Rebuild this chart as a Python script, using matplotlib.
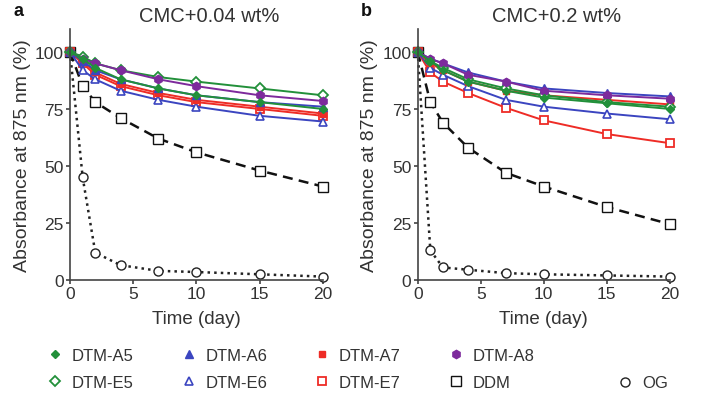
import matplotlib.pyplot as plt
from matplotlib.lines import Line2D

plt.rcParams['font.family'] = ['Liberation Sans', 'DejaVu Sans']
plt.rcParams['text.color'] = '#333333'
plt.rcParams['axes.labelcolor'] = '#333333'
plt.rcParams['xtick.color'] = '#333333'
plt.rcParams['ytick.color'] = '#333333'

days = [0, 1, 2, 4, 7, 10, 15, 20]

# panel a: CMC+0.04 wt%
a_A5 = [100, 97, 93, 88, 84, 81, 78, 75]
a_E5 = [100, 98, 95, 92, 89, 87, 84, 81]
a_A6 = [100, 96, 92, 88, 84, 81, 78, 76]
a_E6 = [100, 92, 88, 83, 79, 76, 72, 69.5]
a_A7 = [100, 96, 91, 86, 82, 79, 76, 73]
a_E7 = [100, 95, 90, 85, 81, 78, 75, 72]
a_A8 = [100, 97, 95, 92, 88, 85, 81, 78.5]
a_DDM = [100, 85, 78, 71, 62, 56, 48, 41]
a_OG = [100, 45, 12, 6.5, 4, 3.5, 2.5, 1.5]

# panel b: CMC+0.2 wt%
b_A5 = [100, 96, 92, 87, 83, 80, 77.5, 75]
b_E5 = [100, 96, 93, 88, 84, 81, 78, 76]
b_A6 = [100, 97, 95, 91, 87, 84, 82, 80.5]
b_E6 = [100, 93, 90, 85, 79, 76, 73, 70.5]
b_A7 = [100, 95, 92, 87, 83, 81, 79, 77]
b_E7 = [100, 91, 87, 82, 75.5, 70, 64, 60]
b_A8 = [100, 97, 95, 90, 87, 83, 81, 79.5]
b_DDM = [100, 78, 69, 58, 47, 41, 32, 24.5]
b_OG = [100, 13, 5.5, 4.5, 3, 2.5, 2, 1.5]

green = '#22903a'
blue = '#3b45c0'
red = '#ee2c26'
purple = '#7d2a9c'

styles = {
    'DTM-A5': dict(color=green, marker='D', ms=4.5, mfc=green, ls='-', lw=1.4),
    'DTM-A6': dict(color=blue, marker='^', ms=5.5, mfc=blue, ls='-', lw=1.4),
    'DTM-A7': dict(color=red, marker='s', ms=5, mfc=red, ls='-', lw=1.4),
    'DTM-A8': dict(color=purple, marker='h', ms=6, mfc=purple, ls='-', lw=1.4),
    'DTM-E5': dict(color=green, marker='D', ms=5, mfc='white', mew=1.3, ls='-', lw=1.4),
    'DTM-E6': dict(color=blue, marker='^', ms=6, mfc='white', mew=1.2, ls='-', lw=1.4),
    'DTM-E7': dict(color=red, marker='s', ms=6, mfc='white', mew=1.3, ls='-', lw=1.4),
    'DDM': dict(color='#111111', marker='s', ms=6.5, mfc='white', mew=1.0, ls=(0, (4, 2.5)), lw=1.8),
    'OG': dict(color='#222222', marker='o', ms=6.5, mfc='white', mew=1.0, ls=':', lw=1.8),
}

panel_a = {'DTM-A5': a_A5, 'DTM-A6': a_A6, 'DTM-A7': a_A7, 'DTM-A8': a_A8,
           'DTM-E5': a_E5, 'DTM-E6': a_E6, 'DTM-E7': a_E7, 'DDM': a_DDM, 'OG': a_OG}
panel_b = {'DTM-A5': b_A5, 'DTM-A6': b_A6, 'DTM-A7': b_A7, 'DTM-A8': b_A8,
           'DTM-E5': b_E5, 'DTM-E6': b_E6, 'DTM-E7': b_E7, 'DDM': b_DDM, 'OG': b_OG}
draw_order = ['OG', 'DDM', 'DTM-E7', 'DTM-E6', 'DTM-A7', 'DTM-A6', 'DTM-E5', 'DTM-A8', 'DTM-A5']

fig = plt.figure(figsize=(7.08, 4.02), dpi=100)
ax1 = fig.add_axes([0.0989, 0.301, 0.357, 0.624])
ax2 = fig.add_axes([0.590, 0.301, 0.356, 0.624])

for ax, data, title, letter in [(ax1, panel_a, 'CMC+0.04 wt%', 'a'),
                                (ax2, panel_b, 'CMC+0.2 wt%', 'b')]:
    for name in draw_order:
        ax.plot(days, data[name], clip_on=False, **styles[name])
    ax.set_xlim(0, 20)
    ax.set_ylim(0, 110)
    ax.set_xticks([0, 5, 10, 15, 20])
    ax.set_yticks([0, 25, 50, 75, 100])
    ax.spines['top'].set_visible(False)
    ax.spines['right'].set_visible(False)
    for s in ['left', 'bottom']:
        ax.spines[s].set_linewidth(1.2)
        ax.spines[s].set_color('#444444')
    ax.tick_params(labelsize=12.5, length=3, width=1.1, pad=1.5)
    ax.set_xlabel('Time (day)', fontsize=13.5, labelpad=6)
    ax.set_ylabel('Absorbance at 875 nm (%)', fontsize=14, labelpad=3)
    ax.set_title(title, fontsize=14.5, x=0.55, pad=6)
    ax.text(-0.225, 1.04, letter, transform=ax.transAxes, fontsize=13,
            fontweight='bold', color='#111111', va='bottom')

names = ['DTM-A5', 'DTM-E5', 'DTM-A6', 'DTM-E6', 'DTM-A7', 'DTM-E7', 'DTM-A8', 'DDM']
handles = [Line2D([], [], **{**styles[n], 'ls': 'none'}) for n in names]
fig.legend(handles, names, ncol=4, loc='center left', bbox_to_anchor=(0.045, 0.080),
           frameon=False, fontsize=12, handlelength=1.0, handletextpad=0.5,
           columnspacing=2.8, labelspacing=0.7)
og = Line2D([], [], **{**styles['OG'], 'ls': 'none'})
fig.legend([og], ['OG'], loc='center left', bbox_to_anchor=(0.85, 0.045),
           frameon=False, fontsize=12, handlelength=1.0, handletextpad=0.5)

fig.savefig('out.png', dpi=100)
